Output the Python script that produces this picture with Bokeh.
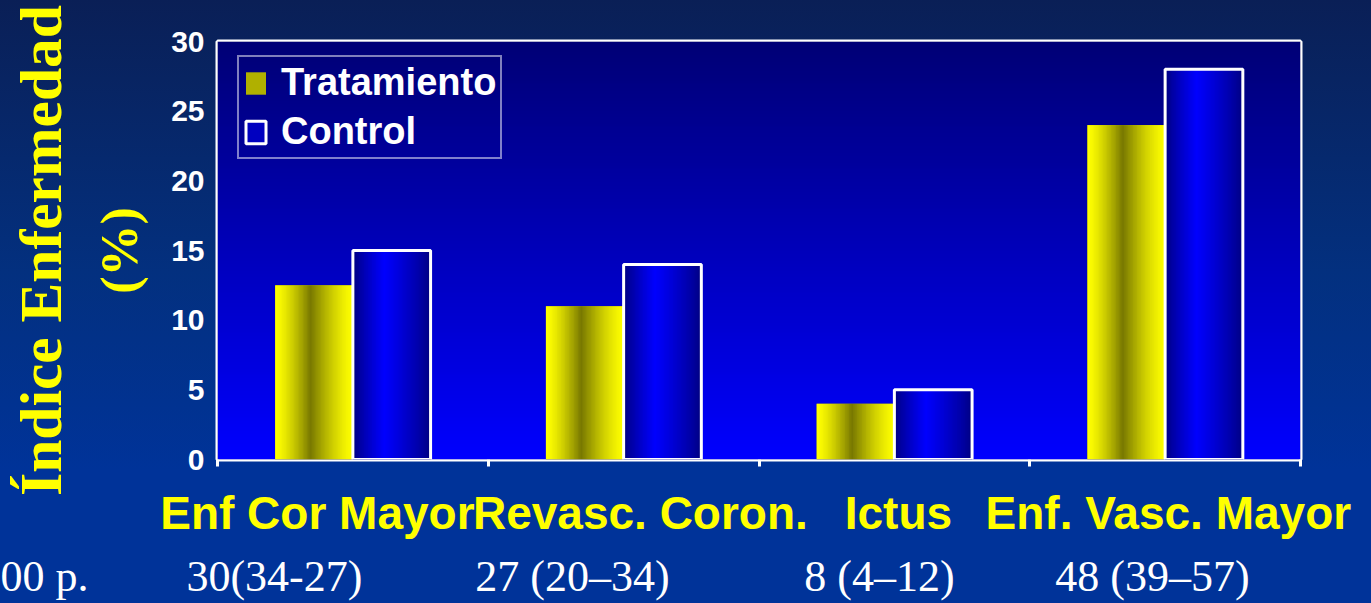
import numpy as np
from bokeh.plotting import figure
from bokeh.models import (FixedTicker, Range1d, Legend, LegendItem, LinearAxis,
                          BoxAnnotation)
from bokeh.embed import file_html
from bokeh.resources import INLINE

# ---------------- data ----------------
categories = ["Enf Cor Mayor", "Revasc. Coron.", "Ictus", "Enf. Vasc. Mayor"]
tratamiento = [12.5, 11, 4, 24]
control = [15, 14, 5, 28]
ic_labels = ["30(34-27)", "27 (20–34)", "8 (4–12)", "48 (39–57)"]
series_names = ["Tratamiento", "Control"]
y_ticks = [0, 5, 10, 15, 20, 25, 30]
y_title = ["Índice Enfermedad", "(%)"]
side_note = "00 p."

# ---------------- layout constants ----------------
label_pos = [0.369, 1.562, 2.515, 3.512]   # category label centres (x data)
ic_pos = [0.21, 1.311, 2.445, 3.453]       # IC label centres (x data)
group_edges = [0, 1, 2, 3, 4]
bw = 0.287
note_pad = "\u00a0" * 40                   # pushes the side note to the page edge


def pack(rgb):
    h, w = rgb.shape[:2]
    img = np.empty((h, w), dtype=np.uint32)
    v = img.view(dtype=np.uint8).reshape((h, w, 4))
    v[:, :, :3] = rgb
    v[:, :, 3] = 255
    return img


t = np.linspace(0, 1, 96)
d = np.where(t < 0.45, t / 0.45, (1 - t) / 0.55)
yl = 255 - 135 * d ** 1.4
yellow_img = pack(np.stack([yl, yl, np.zeros_like(yl)], axis=-1)[None, :, :].astype(np.uint8))

d2 = np.where(t < 0.4, t / 0.4, (1 - t) / 0.6)
bl = 125 + 130 * d2 ** 0.8
blue_img = pack(np.stack([np.zeros_like(bl), np.zeros_like(bl), bl], axis=-1)[None, :, :].astype(np.uint8))

tv = np.linspace(0, 1, 128)
bv = 255 - 137 * tv
bg_rgb = np.repeat(np.stack([np.zeros_like(bv), np.zeros_like(bv), bv], axis=-1)[:, None, :], 2, axis=1)
bg_img = pack(bg_rgb.astype(np.uint8))

n = len(categories)
idx = np.arange(n)
t_left = idx + 0.5 - bw
c_left = idx + 0.5

p = figure(width=1371, height=603, x_range=Range1d(0, 4), y_range=Range1d(0, 30),
           output_backend="svg", toolbar_location=None,
           min_border_left=217, min_border_right=71, min_border_top=41, min_border_bottom=144)
p.styles = {"background": "linear-gradient(180deg, #0a1f56 0%, #03307f 45%, #003399 78%, #003399 100%)"}
p.border_fill_color = None
p.background_fill_color = None
p.outline_line_color = "white"
p.outline_line_width = 4
p.grid.visible = False

# plot-area gradient
p.image_rgba(image=[bg_img], x=0, y=0, dw=4, dh=30)

# bars: solid base (legend colour) + gradient image + outline
trat_fill = p.quad(left=list(t_left), right=list(t_left + bw), bottom=0, top=tratamiento,
                   fill_color="#b0b000", line_color=None)
ctrl_fill = p.quad(left=list(c_left), right=list(c_left + bw), bottom=0, top=control,
                   fill_color="#0000c0", line_color=None)
p.image_rgba(image=[yellow_img] * n, x=list(t_left), y=[0] * n, dw=[bw] * n, dh=tratamiento)
p.image_rgba(image=[blue_img] * n, x=list(c_left), y=[0] * n, dw=[bw] * n, dh=control)
ctrl_line = p.quad(left=list(c_left), right=list(c_left + bw), bottom=0, top=control,
                   fill_color=None, line_color="white", line_width=3)

# frame inner grey line
p.add_layout(BoxAnnotation(fill_alpha=0, line_color="#707070", line_width=1))

legend = Legend(items=[LegendItem(label=series_names[0], renderers=[trat_fill]),
                       LegendItem(label=series_names[1], renderers=[ctrl_fill, ctrl_line])],
                location=(20, 300))
legend.label_text_color = "white"
legend.label_text_font = "Liberation Sans"
legend.label_text_font_style = "bold"
legend.label_text_font_size = "38px"
legend.border_line_color = "white"
legend.border_line_width = 2
legend.background_fill_alpha = 0
legend.glyph_width = 25
legend.glyph_height = 28
legend.label_height = 40
legend.label_standoff = 13
legend.spacing = 6
legend.padding = 4
legend.margin = 0
p.add_layout(legend)

# x axis: boundary ticks (minor) + category labels (major)
xa = p.xaxis[0]
xa.ticker = FixedTicker(ticks=label_pos, minor_ticks=group_edges)
xa.major_label_overrides = {pos: name for pos, name in zip(label_pos, categories)}
xa.major_tick_line_color = None
xa.major_tick_out = 7
xa.major_tick_in = 0
xa.minor_tick_line_color = "white"
xa.minor_tick_line_width = 3
xa.minor_tick_out = 7
xa.minor_tick_in = 0
xa.axis_line_color = None
xa.major_label_text_color = "#ffff00"
xa.major_label_text_font = "Liberation Sans"
xa.major_label_text_font_style = "bold"
xa.major_label_text_font_size = "46px"
xa.major_label_standoff = 20

# second below axis: IC row (plus the side note at the page edge)
ic_overrides = {pos: s for pos, s in zip(ic_pos, ic_labels)}
ic_overrides[0] = side_note + note_pad
ic_axis = LinearAxis(ticker=FixedTicker(ticks=[0] + ic_pos),
                     major_label_overrides=ic_overrides)
ic_axis.major_tick_line_color = None
ic_axis.minor_tick_line_color = None
ic_axis.major_tick_out = 0
ic_axis.major_tick_in = 0
ic_axis.axis_line_color = None
ic_axis.major_label_text_color = "white"
ic_axis.major_label_text_font = "Liberation Serif"
ic_axis.major_label_text_font_size = "44px"
ic_axis.major_label_standoff = 10
p.add_layout(ic_axis, "below")

# y axis with "(%)" title
ya = p.yaxis[0]
ya.ticker = FixedTicker(ticks=y_ticks)
ya.major_tick_line_color = None
ya.minor_tick_line_color = None
ya.major_tick_out = 0
ya.major_tick_in = 0
ya.axis_line_color = None
ya.major_label_text_color = "white"
ya.major_label_text_font = "Liberation Sans"
ya.major_label_text_font_style = "bold"
ya.major_label_text_font_size = "30px"
ya.major_label_standoff = 13
ya.axis_label = y_title[1]
ya.axis_label_text_color = "#ffff00"
ya.axis_label_text_font = "Liberation Serif"
ya.axis_label_text_font_style = "bold"
ya.axis_label_text_font_size = "52px"
ya.axis_label_standoff = 20

# outer left axis: "Índice Enfermedad"
ya2 = LinearAxis(ticker=FixedTicker(ticks=[]))
ya2.major_tick_line_color = None
ya2.minor_tick_line_color = None
ya2.major_tick_out = 0
ya2.major_tick_in = 0
ya2.major_label_standoff = 0
ya2.axis_line_color = None
ya2.axis_label = y_title[0]
ya2.axis_label_text_color = "#ffff00"
ya2.axis_label_text_font = "Liberation Serif"
ya2.axis_label_text_font_style = "bold"
ya2.axis_label_text_font_size = "59.5px"
ya2.axis_label_standoff = 15
p.add_layout(ya2, "left")

open("out.html", "w").write(file_html(p, INLINE))
